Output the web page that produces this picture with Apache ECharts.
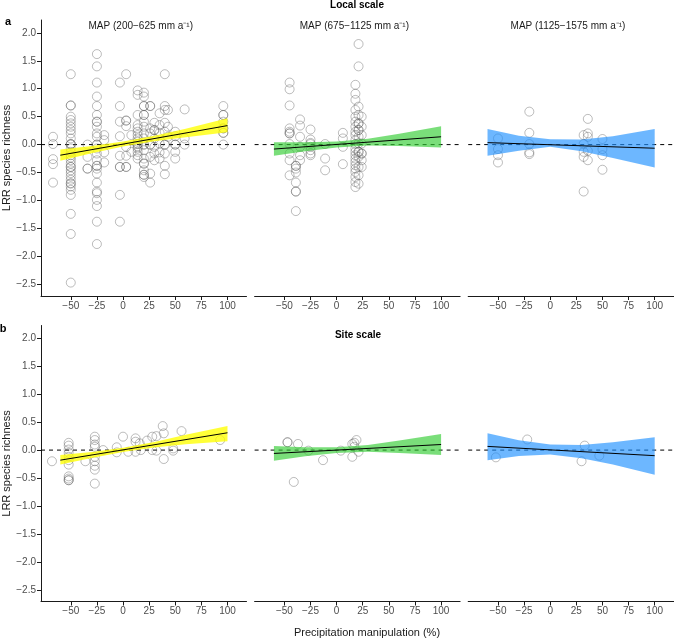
<!DOCTYPE html>
<html><head><meta charset="utf-8">
<script src="https://cdn.jsdelivr.net/npm/echarts@6/dist/echarts.min.js"></script>
<style>html,body{margin:0;padding:0;background:#fff}#c{width:674px;height:639px}</style>
</head><body><div id="c"></div>
<script>
// ---------- DATA ----------
const xTicks = [-50, -25, 0, 25, 50, 75, 100];
const yTicks = [-2.5, -2.0, -1.5, -1.0, -0.5, 0.0, 0.5, 1.0, 1.5, 2.0];
const panelTitles = ['MAP (200\u2212625 mm a\u207B\u00B9)', 'MAP (675\u22121125 mm a\u207B\u00B9)', 'MAP (1125\u22121575 mm a\u207B\u00B9)'];
const rowTitles = ['Local scale', 'Site scale'];
const rowLetters = ['a', 'b'];
const yTitle = 'LRR species richness';
const xTitle = 'Precipitation manipulation (%)';

function col(x, ys) { return ys.map(y => [x, y]); }

const localDry = [].concat(
  col(-67, [0.14, 0.01, -0.26, -0.35, -0.68]),
  col(-50, [1.26, 0.70, 0.70, 0.50, 0.44, 0.38, 0.32, 0.26, 0.20, 0.11, 0.01, 0.01, 0.0, -0.07, -0.13, -0.19, -0.23, -0.28, -0.34, -0.40, -0.40, -0.46, -0.51, -0.57, -0.63, -0.69, -0.70, -0.75, -0.81, -0.90, -1.24, -1.60, -2.47]),
  col(-34, [0.0, -0.22, -0.43, -0.43]),
  col(-25, [1.62, 1.40, 1.11, 0.86, 0.69, 0.53, 0.41, 0.41, 0.32, 0.20, 0.14, 0.0, 0.0, -0.07, -0.16, -0.28, -0.38, -0.38, -0.43, -0.52, -0.68, -0.84, -0.87, -0.99, -1.10, -1.38, -1.78]),
  col(-18, [0.17, 0.08, -0.14, -0.32]),
  col(-3, [1.11, 0.69, 0.41, 0.15, -0.20, -0.40, -0.40, -0.90, -1.38]),
  col(3, [1.26, 0.43, 0.43, 0.33, -0.04, -0.20, -0.40, -0.40]),
  col(8, [0.17, -0.13]),
  col(14, [0.97, 0.89, 0.53, 0.35, 0.29, 0.23, 0.17, 0.11, 0.05, 0.01, 0.01, -0.04, -0.07, -0.13, -0.19, -0.25]),
  col(20, [0.93, 0.86, 0.69, 0.69, 0.53, 0.53, 0.41, 0.32, 0.20, 0.11, 0.0, 0.0, -0.10, -0.25, -0.34, -0.34, -0.46, -0.54, -0.54, -0.58]),
  col(26, [0.69, 0.69, 0.29, 0.20, 0.0, 0.0, -0.22, -0.52, -0.68]),
  col(30, [0.39, 0.26, 0.26, 0.11, -0.04, -0.16, -0.28]),
  col(35, [0.56, 0.35, 0.21, 0.02, -0.14, -0.25]),
  col(40, [1.26, 0.69, 0.62, 0.39, 0.23, 0.0, 0.0, -0.16, -0.38, -0.53]),
  col(43, [0.62, 0.32, 0.14]),
  col(50, [0.23, 0.15, 0.0, 0.0, -0.13, -0.25]),
  col(59, [0.63, 0.11, 0.0]),
  col(96, [0.69, 0.53, 0.53, 0.41, 0.29, 0.29, 0.21, 0.21, 0.0])
);
const localMid = [].concat(
  col(-45, [1.11, 0.99, 0.70, 0.29, 0.23, 0.20, 0.20, 0.01, -0.16, -0.28, -0.55]),
  col(-39, [-0.38, -0.38, -0.43, -0.50, -0.68, -0.84, -0.84, -1.19]),
  col(-35, [0.45, 0.34, 0.14, -0.04, -0.19, -0.28]),
  col(-25, [0.27, 0.09, 0.03, 0.01, -0.04, -0.10, -0.16, -0.19]),
  col(-11, [0.01, -0.25, -0.46]),
  col(6, [0.21, 0.11, -0.04, -0.35]),
  col(18, [1.07, 0.91, 0.80, 0.62, 0.50, 0.41, 0.32, 0.23, 0.17, 0.08, 0.01, -0.07, -0.13, -0.19, -0.25, -0.31, -0.37, -0.43, -0.49, -0.58, -0.67, -0.76]),
  col(21, [1.80, 1.40, 0.68, 0.53, 0.38, 0.38, 0.26, 0.26, 0.14, 0.02, -0.13, -0.13, -0.22, -0.40, -0.55, -0.70]),
  col(24, [0.50, 0.32, 0.17, 0.02, -0.16, -0.16, -0.28, -0.40])
);
const localWet = [].concat(
  col(-50, [0.11, -0.08, -0.19, -0.32]),
  col(-20, [0.59, 0.21, 0.01, -0.14, -0.17]),
  col(32, [0.17, 0.01, -0.13, -0.22, -0.84]),
  col(36, [0.46, 0.20, 0.14, -0.11, -0.28]),
  col(50, [0.10, -0.08, -0.19, -0.45])
);
const siteDry = [].concat(
  [[-68, -0.20], [-36, -0.20]],
  col(-52, [0.13, 0.08, 0.01, -0.05, -0.12, -0.18, -0.26, -0.47, -0.51, -0.54, -0.54]),
  col(-27, [0.24, 0.18, 0.10, 0.06, -0.12, -0.20, -0.28, -0.35, -0.60]),
  [[-19, 0.0], [-6, 0.05], [-6, -0.04], [0, 0.24], [5, -0.03], [12, 0.21], [12, 0.15], [12, -0.03],
   [16, 0.12], [17, 0.0], [23, 0.17], [28, 0.24], [28, 0.0], [32, 0.25], [32, -0.01], [38, 0.43],
   [39, 0.30], [39, -0.16], [48, 0.03], [48, -0.01], [56, 0.34], [93, 0.18]]
);
const siteMid = [[-47, 0.14], [-47, 0.14], [-37, 0.11], [-27, -0.01], [-41, -0.57], [-13, -0.18], [4, -0.01],
  [15, 0.11], [17, 0.13], [19, 0.18], [17, 0.06], [21, -0.03], [15, -0.12]];
const siteWet = [[-52, -0.13], [-22, 0.19], [33, 0.08], [30, -0.20], [47, -0.10]];

// fitted lines (x from -60 to 100) and confidence band
const fitX = [-60, 100];
const fitLocalDry = [-0.19, 0.34];
const fitLocalMid = [-0.08, 0.14];
const fitLocalWet = [0.035, -0.065];
const fitSiteDry = [-0.18, 0.31];
const fitSiteMid = [-0.06, 0.10];
const fitSiteWet = [0.066, -0.10];

const bandX = [-60, -30, 0, 30, 60, 100];
const bandLoLocalDry = [-0.29, -0.155, -0.036, 0.058, 0.132, 0.22];
const bandHiLocalDry = [-0.09, -0.025, 0.054, 0.158, 0.282, 0.47];
const bandLoLocalMid = [-0.20, -0.12, -0.05, -0.016, -0.025, -0.05];
const bandHiLocalMid = [0.04, 0.04, 0.055, 0.104, 0.195, 0.33];
const bandLoLocalWet = [-0.20, -0.11, -0.04, -0.12, -0.24, -0.41];
const bandHiLocalWet = [0.28, 0.16, 0.095, 0.09, 0.15, 0.28];
const bandLoSiteDry = [-0.26, -0.143, -0.036, 0.046, 0.103, 0.16];
const bandHiSiteDry = [-0.09, -0.033, 0.044, 0.146, 0.273, 0.43];
const bandLoSiteMid = [-0.19, -0.11, -0.05, -0.03, -0.05, -0.09];
const bandHiSiteMid = [0.075, 0.05, 0.05, 0.09, 0.17, 0.29];
const bandLoSiteWet = [-0.18, -0.105, -0.08, -0.147, -0.258, -0.44];
const bandHiSiteWet = [0.30, 0.175, 0.10, 0.093, 0.142, 0.23];

// ---------- LAYOUT / STYLE ----------
const FONT = '"Liberation Sans", Arial, sans-serif';
const gridLefts = [41, 254.6, 468.2];
const gridTops = [20, 325.5];
const GW = 205.5, GH = 276;
const XMIN = -78.5, XMAX = 118.2, YMIN = -2.71, YMAX = 2.23;
const bandColors = ['rgba(255,255,0,0.78)', 'rgba(50,205,50,0.65)', 'rgba(30,144,255,0.65)'];

const panels = [
  {pts: localDry, fit: fitLocalDry, lo: bandLoLocalDry, hi: bandHiLocalDry},
  {pts: localMid, fit: fitLocalMid, lo: bandLoLocalMid, hi: bandHiLocalMid},
  {pts: localWet, fit: fitLocalWet, lo: bandLoLocalWet, hi: bandHiLocalWet},
  {pts: siteDry, fit: fitSiteDry, lo: bandLoSiteDry, hi: bandHiSiteDry},
  {pts: siteMid, fit: fitSiteMid, lo: bandLoSiteMid, hi: bandHiSiteMid},
  {pts: siteWet, fit: fitSiteWet, lo: bandLoSiteWet, hi: bandHiSiteWet}
];

const minus = v => String(v).replace('-', '\u2212');
const grids = [], xAxes = [], yAxes = [], series = [];
const axisColor = '#1a1a1a', labelColor = '#4d4d4d';

panels.forEach((p, i) => {
  const r = Math.floor(i / 3), c = i % 3;
  grids.push({left: gridLefts[c], top: gridTops[r], width: GW, height: GH});
  xAxes.push({
    type: 'value', gridIndex: i, min: XMIN, max: XMAX, position: 'bottom',
    axisLine: {show: true, onZero: false, lineStyle: {color: axisColor, width: 1}},
    axisTick: {show: true, length: 4, customValues: xTicks, lineStyle: {color: axisColor}},
    axisLabel: {customValues: xTicks, formatter: v => minus(v), fontSize: 10, color: labelColor, margin: 5, fontFamily: FONT},
    splitLine: {show: false}
  });
  yAxes.push({
    type: 'value', gridIndex: i, min: YMIN, max: YMAX, position: 'left',
    show: c === 0,
    name: c === 0 ? yTitle : '', nameLocation: 'middle', nameGap: 27,
    nameTextStyle: {fontSize: 11, color: '#1a1a1a', fontFamily: FONT},
    axisLine: {show: true, onZero: false, lineStyle: {color: axisColor, width: 1}},
    axisTick: {show: true, length: 4, customValues: yTicks, lineStyle: {color: axisColor}},
    axisLabel: {customValues: yTicks, formatter: v => minus(v.toFixed(1)), fontSize: 10, color: labelColor, margin: 5, fontFamily: FONT},
    splitLine: {show: false}
  });
  // zero reference line
  series.push({
    type: 'line', xAxisIndex: i, yAxisIndex: i, data: [[XMIN, 0], [XMAX, 0]],
    symbol: 'none', silent: true, z: 1,
    lineStyle: {color: '#000', width: 1, type: [4, 4]}
  });
  // points
  series.push({
    type: 'scatter', xAxisIndex: i, yAxisIndex: i, data: p.pts, symbol: 'circle', symbolSize: 9, z: 2,
    itemStyle: {color: 'rgba(0,0,0,0)', borderColor: 'rgba(90,90,90,0.5)', borderWidth: 1}
  });
  // confidence band
  const lo = p.lo, hi = p.hi, fill = bandColors[c];
  series.push({
    type: 'custom', xAxisIndex: i, yAxisIndex: i, data: [[0, 0]], z: 3, silent: true,
    renderItem: (params, api) => {
      const pts = [];
      bandX.forEach((x, k) => pts.push(api.coord([x, hi[k]])));
      for (let k = bandX.length - 1; k >= 0; k--) pts.push(api.coord([bandX[k], lo[k]]));
      return {type: 'polygon', shape: {points: pts}, style: {fill: fill, stroke: null}};
    }
  });
  // fitted line
  series.push({
    type: 'line', xAxisIndex: i, yAxisIndex: i, data: fitX.map((x, k) => [x, p.fit[k]]),
    symbol: 'none', silent: true, z: 4, lineStyle: {color: '#000', width: 1}
  });
});

const graphics = [];
panelTitles.forEach((t, c) => {
  graphics.push({type: 'text', x: gridLefts[c] + GW / 2 - 3, y: 26.5,
    style: {text: t, font: '10px ' + FONT, fill: '#1a1a1a', align: 'center', verticalAlign: 'middle'}});
});
graphics.push({type: 'text', x: 357, y: 5, style: {text: rowTitles[0], font: 'bold 10px ' + FONT, fill: '#000', align: 'center', verticalAlign: 'middle'}});
graphics.push({type: 'text', x: 358, y: 335, style: {text: rowTitles[1], font: 'bold 10px ' + FONT, fill: '#000', align: 'center', verticalAlign: 'middle'}});
graphics.push({type: 'text', x: 8, y: 22, style: {text: rowLetters[0], font: 'bold 11px ' + FONT, fill: '#000', align: 'center', verticalAlign: 'middle'}});
graphics.push({type: 'text', x: 3, y: 329, style: {text: rowLetters[1], font: 'bold 11px ' + FONT, fill: '#000', align: 'center', verticalAlign: 'middle'}});
graphics.push({type: 'text', x: 367, y: 633, style: {text: xTitle, font: '11px ' + FONT, fill: '#1a1a1a', align: 'center', verticalAlign: 'middle'}});

const chart = echarts.init(document.getElementById('c'), null, {renderer: 'canvas'});
chart.setOption({
  animation: false,
  backgroundColor: '#fff',
  textStyle: {fontFamily: FONT},
  grid: grids, xAxis: xAxes, yAxis: yAxes, series: series, graphic: graphics
});
</script></body></html>
